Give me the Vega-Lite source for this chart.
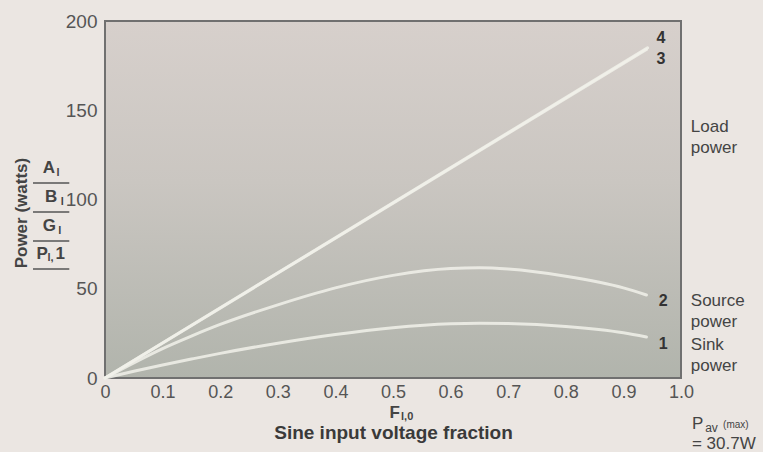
{
  "$schema": "https://vega.github.io/schema/vega-lite/v6.json",
  "width": 576,
  "height": 357,
  "autosize": "none",
  "padding": {"left": 105, "top": 21, "right": 82, "bottom": 74},
  "background": "#ebe6e2",
  "config": {"view": {"stroke": null}, "font": "Liberation Sans"},
  "encoding": {
    "x": {
      "field": "F", "type": "quantitative",
      "scale": {"domain": [0, 1], "nice": false, "zero": false},
      "axis": {
        "values": [0, 0.1, 0.2, 0.3, 0.4, 0.5, 0.6, 0.7, 0.8, 0.9, 1.0],
        "labelExpr": "datum.value == 0 ? '0' : format(datum.value, '.1f')",
        "labelFlush": false, "labelOverlap": false,
        "domain": false, "ticks": false, "grid": false,
        "labelFontSize": 18, "labelColor": "#555", "labelPadding": 5,
        "title": "Sine input voltage fraction",
        "titleFontSize": 19, "titleFontWeight": "bold", "titleColor": "#3a3a3a",
        "titlePadding": 22
      }
    },
    "y": {
      "field": "P", "type": "quantitative",
      "scale": {"domain": [0, 200], "nice": false, "zero": false},
      "axis": {
        "values": [0, 50, 100, 150, 200],
        "domain": false, "ticks": false, "grid": false,
        "labelFontSize": 19, "labelColor": "#555", "labelPadding": 8,
        "labelFlush": false, "labelOverlap": false,
        "title": null
      }
    }
  },
  "layer": [
    {
      "data": {"values": [{"F": 0, "F2": 1, "P": 0, "P2": 200}]},
      "mark": {
        "type": "rect",
        "fill": {
          "gradient": "linear", "x1": 0, "y1": 0, "x2": 0, "y2": 1,
          "stops": [
            {"offset": 0, "color": "#d7d0cc"},
            {"offset": 0.45, "color": "#cac6c1"},
            {"offset": 1, "color": "#b1b4ac"}
          ]
        },
        "stroke": "#707070",
        "strokeWidth": 2
      },
      "encoding": {"x2": {"field": "F2"}, "y2": {"field": "P2"}}
    },
    {
      "data": {"values": [
        {"series": "1", "F": 0, "P": 0},
        {"series": "1", "F": 0.05, "P": 3.8},
        {"series": "1", "F": 0.1, "P": 7.3},
        {"series": "1", "F": 0.15, "P": 10.6},
        {"series": "1", "F": 0.2, "P": 13.8},
        {"series": "1", "F": 0.3, "P": 19.5},
        {"series": "1", "F": 0.4, "P": 24.4},
        {"series": "1", "F": 0.5, "P": 28.2},
        {"series": "1", "F": 0.6, "P": 30.4},
        {"series": "1", "F": 0.65, "P": 30.7},
        {"series": "1", "F": 0.7, "P": 30.5},
        {"series": "1", "F": 0.8, "P": 28.8},
        {"series": "1", "F": 0.9, "P": 25.3},
        {"series": "1", "F": 0.94, "P": 23.0},
        {"series": "2", "F": 0, "P": 0},
        {"series": "2", "F": 0.05, "P": 8.5},
        {"series": "2", "F": 0.1, "P": 16.5},
        {"series": "2", "F": 0.15, "P": 23.5},
        {"series": "2", "F": 0.2, "P": 30.0},
        {"series": "2", "F": 0.3, "P": 41.0},
        {"series": "2", "F": 0.4, "P": 50.5},
        {"series": "2", "F": 0.5, "P": 57.5},
        {"series": "2", "F": 0.6, "P": 61.3},
        {"series": "2", "F": 0.65, "P": 61.7},
        {"series": "2", "F": 0.7, "P": 61.0},
        {"series": "2", "F": 0.8, "P": 57.0},
        {"series": "2", "F": 0.9, "P": 50.5},
        {"series": "2", "F": 0.94, "P": 46.5},
        {"series": "3", "F": 0, "P": 0},
        {"series": "3", "F": 0.94, "P": 184},
        {"series": "4", "F": 0, "P": 0},
        {"series": "4", "F": 0.942, "P": 185}
      ]},
      "mark": {"type": "line", "interpolate": "monotone", "strokeCap": "round", "color": "#f1f1ea", "opacity": 0.85},
      "encoding": {
        "detail": {"field": "series"},
        "strokeWidth": {"field": "series", "type": "nominal", "scale": {"domain": ["1", "2", "3", "4"], "range": [3, 3, 4, 3]}, "legend": null}
      }
    },
    {
      "data": {"values": [
        {"t": "4", "F": 0.965, "P": 190.5},
        {"t": "3", "F": 0.965, "P": 178.7},
        {"t": "2", "F": 0.969, "P": 43.1},
        {"t": "1", "F": 0.969, "P": 19.0}
      ]},
      "mark": {"type": "text", "fontWeight": "bold", "fontSize": 16, "color": "#333", "align": "center", "baseline": "middle"},
      "encoding": {"text": {"field": "t"}}
    },
    {
      "data": {"values": [
        {"t": "Load", "F": 1.017, "P": 140.6},
        {"t": "power", "F": 1.017, "P": 128.9},
        {"t": "Source", "F": 1.017, "P": 43.1},
        {"t": "power", "F": 1.017, "P": 31.4},
        {"t": "Sink", "F": 1.017, "P": 18.5},
        {"t": "power", "F": 1.017, "P": 6.7},
        {"t": "P", "F": 1.019, "P": -26.0},
        {"t": "= 30.7W", "F": 1.019, "P": -36.9}
      ]},
      "mark": {"type": "text", "fontSize": 17, "color": "#444", "align": "left", "baseline": "middle"},
      "encoding": {"text": {"field": "t"}}
    },
    {
      "data": {"values": [
        {"t": "av", "F": 1.042, "P": -27.8}
      ]},
      "mark": {"type": "text", "fontSize": 12, "color": "#444", "align": "left", "baseline": "middle"},
      "encoding": {"text": {"field": "t"}}
    },
    {
      "data": {"values": [
        {"t": "(max)", "F": 1.073, "P": -26.3}
      ]},
      "mark": {"type": "text", "fontSize": 10, "color": "#444", "align": "left", "baseline": "middle"},
      "encoding": {"text": {"field": "t"}}
    },
    {
      "data": {"values": [
        {"t": "A", "F": -0.108, "P": 117.6},
        {"t": "B", "F": -0.104, "P": 101.4},
        {"t": "G", "F": -0.108, "P": 85.2},
        {"t": "P", "F": -0.119, "P": 69.5},
        {"t": "1", "F": -0.086, "P": 69.5},
        {"t": "F", "F": 0.494, "P": -19.6}
      ]},
      "mark": {"type": "text", "fontSize": 17, "fontWeight": "bold", "color": "#444", "align": "left", "baseline": "middle"},
      "encoding": {"text": {"field": "t"}}
    },
    {
      "data": {"values": [
        {"t": "l", "F": -0.084, "P": 115.0},
        {"t": "l", "F": -0.077, "P": 98.8},
        {"t": "l", "F": -0.081, "P": 82.6},
        {"t": "l,", "F": -0.100, "P": 67.0},
        {"t": "l,0", "F": 0.514, "P": -21.8}
      ]},
      "mark": {"type": "text", "fontSize": 11, "fontWeight": "bold", "color": "#444", "align": "left", "baseline": "middle"},
      "encoding": {"text": {"field": "t"}}
    },
    {
      "data": {"values": [
        {"F": -0.125, "F2": -0.062, "P": 109.2},
        {"F": -0.125, "F2": -0.062, "P": 93.0},
        {"F": -0.125, "F2": -0.062, "P": 76.8},
        {"F": -0.125, "F2": -0.062, "P": 61.1}
      ]},
      "mark": {"type": "rule", "color": "#555", "strokeWidth": 1.5},
      "encoding": {"x2": {"field": "F2"}}
    },
    {
      "data": {"values": [
        {"t": "Power (watts)", "F": -0.144, "P": 92.4}
      ]},
      "mark": {"type": "text", "fontSize": 17, "fontWeight": "bold", "color": "#444", "align": "center", "baseline": "middle", "angle": 270},
      "encoding": {"text": {"field": "t"}}
    }
  ]
}
